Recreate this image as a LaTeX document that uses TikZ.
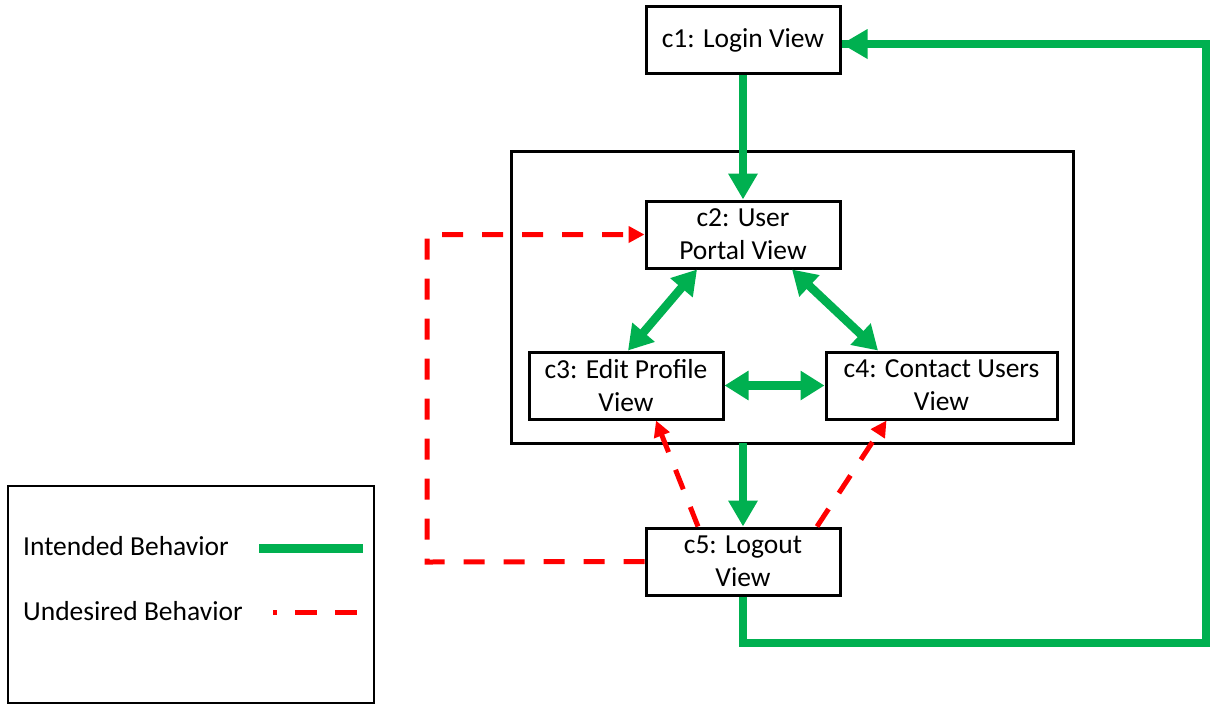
\documentclass[tikz,border=0pt]{standalone}
\usepackage{fontspec}
\setmainfont{Carlito}
\usetikzlibrary{arrows.meta}
\definecolor{okgreen}{HTML}{00B050}
\definecolor{badred}{HTML}{FF0000}
\tikzset{
  view/.style={draw=black, line width=3pt, fill=white, align=center,
    minimum height=67pt, inner sep=2pt,
    font=\fontsize{27.5}{33}\selectfont},
  flow/.style={draw=okgreen, line width=8.5pt,
    -{Triangle[width=28pt,length=26pt]}},
  biflow/.style={draw=okgreen, line width=8.5pt,
    {Triangle[width=28pt,length=24pt]}-{Triangle[width=28pt,length=24pt]}},
  loopflow/.style={draw=okgreen, line width=8pt},
  badflow/.style={draw=badred, line width=5pt, dash pattern=on 21pt off 19pt,
    -{Triangle[width=16pt,length=16pt]}},
  legendtext/.style={anchor=west, inner sep=0pt,
    font=\fontsize{27.5}{33}\selectfont}
}
\begin{document}
\begin{tikzpicture}[x=1pt,y=-1pt]
  \useasboundingbox (0,0) rectangle (1214,705);

  % container around the portal views
  \draw[line width=3pt] (511,151) rectangle (1073,443);
  \coordinate (boxbottom) at (743,443);

  % views
  \node[view, minimum width=194pt] (c1) at (743,40)    {c1: Login View};
  \node[view, minimum width=194pt] (c2) at (743,234.5) {c2: User\\Portal View};
  \node[view, minimum width=194pt] (c3) at (626,385.5) {c3: Edit Profile\\View};
  \node[view, minimum width=231pt] (c4) at (941.5,385.5) {c4: Contact Users\\View};
  \node[view, minimum width=194pt] (c5) at (743,561.5) {c5: Logout\\View};

  % intended behaviour
  \draw[flow] (c1.south) -- (c2.north);
  \draw[biflow] ([xshift=-46pt]c2.south) -- ([xshift=2pt]c3.north);
  \draw[biflow] ([xshift=49pt]c2.south) -- ([xshift=-63.5pt]c4.north);
  \draw[biflow] (c3.east) -- (c4.west);
  \draw[flow] (boxbottom) -- (c5.north);
  \coordinate (loopcorner) at (1206,643);
  \draw[loopflow] (c5.south) |- (loopcorner) |- ([yshift=-4pt]c1.east)
    coordinate (loopend);
  \draw[flow] ([xshift=-2pt]loopend -| loopcorner) -- ([yshift=-4pt]c1.east);

  % undesired behaviour
  \coordinate (redcorner) at (427,562);
  \draw[badflow] (c5.west) -- (redcorner) |- (c2.west);
  \draw[badflow] ([xshift=-45pt]c5.north) -- ([xshift=30pt]c3.south);
  \draw[badflow] ([xshift=74pt]c5.north) -- ([xshift=-55pt]c4.south);

  % legend
  \draw[line width=2.5pt] (8,486) rectangle (374,703);
  \node[legendtext] (lgood) at (23,546) {Intended Behavior};
  \node[legendtext] (lbad)  at (23,611) {Undesired Behavior};
  \coordinate (lgoodA) at (259,548);
  \coordinate (lgoodB) at (363,548);
  \coordinate (lbadA)  at (273,612);
  \coordinate (lbadB)  at (358,612);
  \draw[okgreen, line width=9pt] (lgoodA) -- (lgoodB);
  \draw[badred, line width=5pt, dash pattern=on 22pt off 18pt, dash phase=18pt]
    (lbadA) -- (lbadB);
\end{tikzpicture}
\end{document}
